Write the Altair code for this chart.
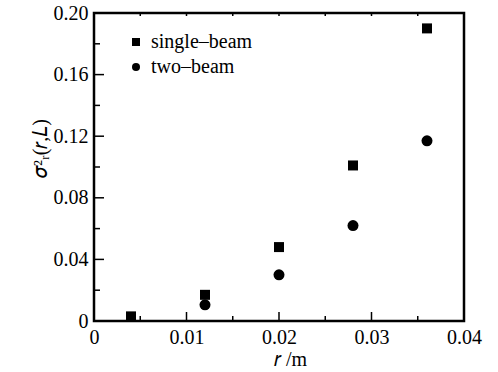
import altair as alt
import pandas as pd

r_vals = [0.004, 0.012, 0.020, 0.028, 0.036]
single_beam = [0.003, 0.017, 0.048, 0.101, 0.190]
r_two = [0.012, 0.020, 0.028, 0.036]
two_beam = [0.0105, 0.030, 0.062, 0.117]

x_major = [0.01, 0.02, 0.03]
x_minor = [0.005, 0.015, 0.025, 0.035]
y_major = [0.04, 0.08, 0.12, 0.16]
y_minor = [0.02, 0.06, 0.10, 0.14, 0.18]
x_top = [0.005, 0.01, 0.015, 0.02, 0.025, 0.03, 0.035]

W, H = 370, 308
FONT = "Liberation Serif"

pts = pd.DataFrame(
    {"r": r_vals + r_two,
     "v": single_beam + two_beam,
     "s": ["single\u2013beam"] * len(r_vals) + ["two\u2013beam"] * len(r_two)}
)

xs = alt.Scale(domain=[0, 0.04], nice=False, zero=False)
ys = alt.Scale(domain=[0, 0.20], nice=False, zero=False)

x_axis = alt.Axis(values=[0, 0.01, 0.02, 0.03, 0.04], tickSize=0, domain=False, grid=False,
                  labelExpr="datum.value == 0 ? '0' : format(datum.value, '.2f')",
                  labelFont=FONT, labelFontSize=20, labelColor="black", labelPadding=6,
                  labelFlush=False,
                  title="\U0001D45F /m", titleFont=FONT, titleFontSize=20,
                  titleFontWeight="normal", titleColor="black",
                  titleX=196, titleY=38, titleBaseline="middle")
y_axis = alt.Axis(values=[0, 0.04, 0.08, 0.12, 0.16, 0.20], tickSize=0, domain=False, grid=False,
                  labelExpr="datum.value == 0 ? '0' : format(datum.value, '.2f')",
                  labelFont=FONT, labelFontSize=20, labelColor="black", labelPadding=6,
                  labelFlush=False,
                  title="\U0001D70E\u00B2\u1D63(\U0001D45F,\U0001D43F)", titleFont=FONT, titleFontSize=20,
                  titleFontWeight="normal", titleColor="black",
                  titleX=-54, titleY=135, titleBaseline="middle")

def X():
    return alt.X("r:Q", scale=xs, axis=x_axis)

def Y():
    return alt.Y("v:Q", scale=ys, axis=y_axis)

points = alt.Chart(pts).mark_point(filled=True, opacity=1, color="black").encode(
    x=X(), y=Y(),
    shape=alt.Shape("s:N", scale=alt.Scale(domain=["single\u2013beam", "two\u2013beam"], range=["square", "circle"]),
                    legend=alt.Legend(title=None, orient="none", legendX=32, legendY=19,
                                      labelFont=FONT, labelFontSize=20, labelColor="black",
                                      symbolSize=64, symbolFillColor="black", symbolStrokeColor="black",
                                      labelOffset=5, rowPadding=5, padding=0)),
    size=alt.condition("datum.s == 'two\u2013beam'", alt.value(121), alt.value(100)),
)

def tick_layer(vals, field, horizontal, start, end):
    df = pd.DataFrame({field: vals})
    c = alt.Chart(df).mark_rule(color="black", strokeWidth=1.5)
    if horizontal:
        return c.encode(y=Y(), x=alt.value(start), x2=alt.value(end))
    return c.encode(x=X(), y=alt.value(start), y2=alt.value(end))

ticks = [
    tick_layer(x_major, "r", False, H, H - 9),
    tick_layer(x_minor, "r", False, H, H - 5),
    tick_layer(x_top, "r", False, 0, 3),
    tick_layer(y_major, "v", True, 0, 10),
    tick_layer(y_minor, "v", True, 0, 6),
]

chart = alt.layer(points, *ticks).properties(
    width=W, height=H,
    autosize=alt.AutoSizeParams(type="none"),
    padding={"left": 94, "top": 13, "right": 34, "bottom": 51},
    background="white",
).configure_view(stroke="black", strokeWidth=2.5)

chart.save("out.html", embed_options={"renderer": "svg", "actions": False})
